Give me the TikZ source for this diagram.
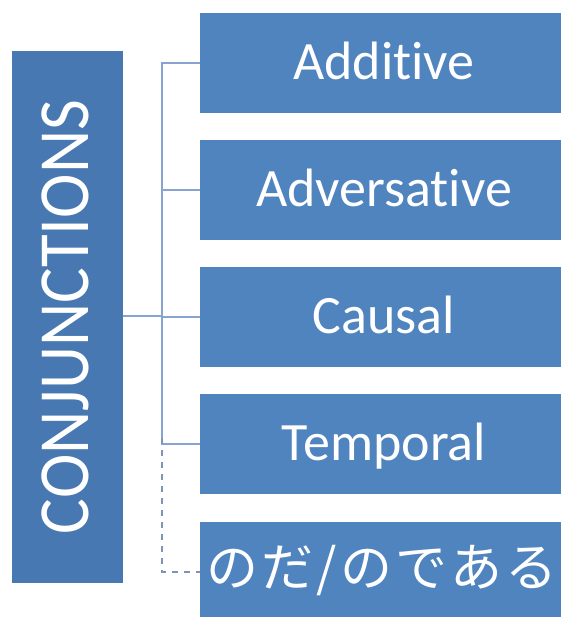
\documentclass[tikz,border=0pt]{standalone}
\usepackage{fontspec}
\setmainfont{Carlito}[Ligatures={NoCommon}]
\newfontfamily\jpfont{Noto Sans CJK JP}[LetterSpace=6]
\definecolor{boxblue}{HTML}{4F84BF}
\definecolor{leftblue}{HTML}{4778B1}
\definecolor{linkblue}{HTML}{86A4CF}
\definecolor{dashblue}{HTML}{7F93B6}
\tikzset{
  catbox/.style={rectangle, fill=boxblue, draw=none, minimum width=368pt, minimum height=100pt,
    inner sep=0pt, text=white, font=\fontsize{54}{60}\selectfont, text height=35.6pt, text depth=2pt},
  link/.style={draw=linkblue, line width=1.8pt},
  dlink/.style={draw=dashblue, line width=1.9pt, dash pattern=on 6pt off 6pt},
}
\begin{document}
\begin{tikzpicture}[x=1pt, y=-1pt]
\useasboundingbox (0,0) rectangle (560,617);
\fill[white] (0,0) rectangle (560,617);
\node[rectangle, fill=leftblue, minimum width=111pt, minimum height=532pt, inner sep=0pt] (L) at (67.5,317) {};
\node[rotate=90, anchor=base, text=white, inner sep=0pt, font=\fontsize{72}{80}\selectfont] (Ltxt) at (88.5,317) {\scalebox{0.93}[1]{CONJUNCTIONS}};
\node[catbox] (b1) at (384,63) {Addit\kern0pt ive};
\node[catbox] (b2) at (384,190) {Adversat\kern0pt ive};
\node[catbox] (b3) at (384,317) {Causal};
\node[catbox] (b4) at (384,444) {Temporal};
\node[catbox] (b5) at (384,572) {};
\node[text=white, inner sep=0pt, font=\jpfont\fontsize{52}{58}\selectfont, text height=41pt, text depth=0pt] (b5txt) at (382,566) {のだ/のである};
\coordinate (hub) at (162,316);
\draw[link] (L.east |- hub) -- (hub);
\draw[link] (b1.west) -- (b1.west -| hub) -- (b4.west -| hub) -- (b4.west);
\draw[link] (b2.west -| hub) -- (b2.west);
\draw[link] (b3.west -| hub) -- (b3.west);
\draw[dlink] ([yshift=6pt]b4.west -| hub) -- (b5.west -| hub) -- (b5.west);
\end{tikzpicture}
\end{document}
